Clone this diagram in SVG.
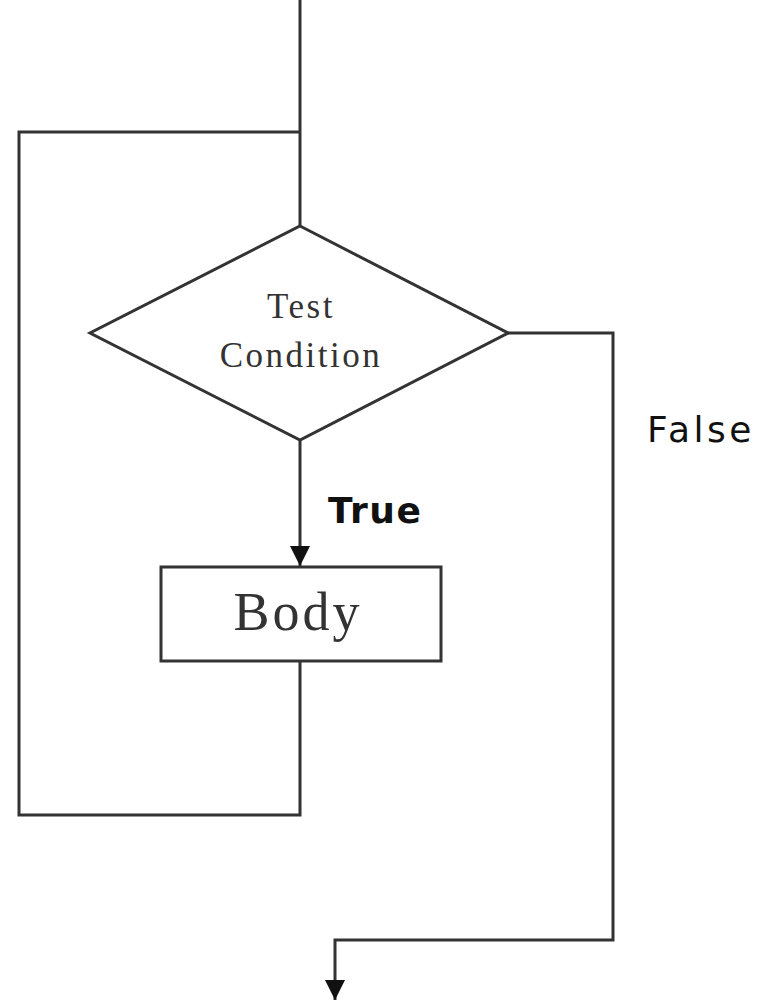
<svg xmlns="http://www.w3.org/2000/svg" width="769" height="1002" viewBox="0 0 769 1002">
<style>
.ln{fill:none;stroke:#333;stroke-width:3}
.shape{fill:#fff;stroke:#333;stroke-width:3}
.serif{font-family:"Liberation Serif","DejaVu Serif",serif;fill:#333;text-anchor:middle}
.sans{font-family:"DejaVu Sans","Liberation Sans",sans-serif;fill:#111}
</style>
<defs>
<marker id="arrBig" viewBox="0 0 10 10" refX="10" refY="5" markerWidth="20" markerHeight="22" orient="auto" markerUnits="userSpaceOnUse">
<path d="M0,0 L10,5 L0,10 Z" fill="#111"/>
</marker>
</defs>
<rect width="769" height="1002" fill="#fff"/>
<g id="connectors">
<path class="ln" d="M300,0 V226"/>
<path class="ln" d="M300,661 V815 H19 V132 H300"/>
<path class="ln" d="M300,440 V566" marker-end="url(#arrBig)"/>
<path class="ln" d="M508,333 H613 V940 H335 V1000" marker-end="url(#arrBig)"/>
</g>
<g id="decision">
<polygon class="shape" points="300,226 508,333 300,440 90,333"/>
<text class="serif" x="301" y="318" font-size="35" letter-spacing="2.5">Test</text>
<text class="serif" x="301" y="367" font-size="35" letter-spacing="2.5">Condition</text>
</g>
<g id="body">
<rect class="shape" x="161" y="567" width="280" height="94"/>
<text class="serif" x="298" y="630" font-size="54" letter-spacing="3">Body</text>
</g>
<g id="labels">
<text class="sans" x="328" y="523" font-size="36" font-weight="bold" letter-spacing="1.5">True</text>
<text class="sans" x="647" y="442" font-size="36" letter-spacing="3.5">False</text>
</g>
</svg>
